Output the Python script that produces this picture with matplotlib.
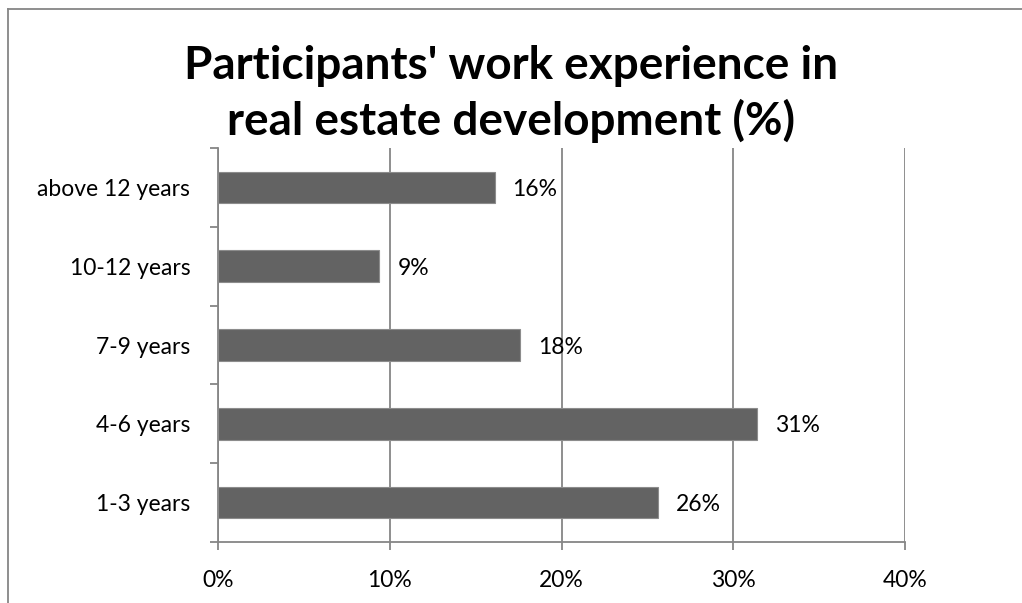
import numpy as np
import matplotlib
matplotlib.use("Agg")
import matplotlib.pyplot as plt
from matplotlib.lines import Line2D

# work experience groups, bottom to top
categories = ["1-3 years", "4-6 years", "7-9 years", "10-12 years", "above 12 years"]
shares = [25.6, 31.4, 17.6, 9.4, 16.1]   # percent of participants
xticks = [0, 10, 20, 30, 40]
title = "Participants' work experience in\nreal estate development (%)"

W, H = 1022, 603
plt.rcParams['font.family'] = ['Lato', 'DejaVu Sans']

fig = plt.figure(figsize=(W / 100, H / 100), dpi=100)
ax = fig.add_axes([218 / W, 1 - 542 / H, (905 - 218) / W, (542 - 148) / H])

grey = '#868686'
fs = 16.5
ypos = np.arange(len(categories))
ax.barh(ypos, shares, height=0.4, color='#636363', edgecolor='#8c8c8c',
        linewidth=0.8, zorder=3)

for y, v in zip(ypos, shares):
    ax.annotate("{:.0f}%".format(v), (v, y), xytext=(13, 0),
                textcoords='offset points', va='center_baseline', ha='left',
                fontsize=fs, color='black')

ax.set_xlim(0, 40)
ax.set_ylim(-0.5, len(categories) - 0.5)
ax.set_xticks(xticks)
ax.set_xticklabels(["{}%".format(t) for t in xticks], fontsize=fs)
ax.xaxis.grid(True, color=grey, linewidth=1.3, zorder=0)

# categories sit between the tick marks, Excel style
ax.set_yticks(np.arange(-0.5, len(categories), 1.0))
ax.set_yticklabels([])
ax.set_yticks(ypos, minor=True)
ax.set_yticklabels(categories, minor=True, fontsize=fs)
ax.tick_params(axis='y', which='minor', length=0, pad=20)
ax.tick_params(axis='y', which='major', length=6, color=grey, width=1.3)
ax.tick_params(axis='x', length=6, color=grey, width=1.3, pad=14)

for side in ['top', 'right']:
    ax.spines[side].set_visible(False)
for side in ['left', 'bottom']:
    ax.spines[side].set_color(grey)
    ax.spines[side].set_linewidth(1.3)

fig.text(0.5, 1 - 94 / H, title, ha='center', va='center', fontsize=33,
         fontweight='bold', linespacing=1.34)

# chart frame (left and top edges)
fig.add_artist(Line2D([8 / W, 8 / W], [0, 1 - 9 / H], transform=fig.transFigure,
                      color=grey, linewidth=1.3))
fig.add_artist(Line2D([8 / W, 1], [1 - 9 / H, 1 - 9 / H], transform=fig.transFigure,
                      color=grey, linewidth=1.3))

fig.savefig("out.png", dpi=100)
